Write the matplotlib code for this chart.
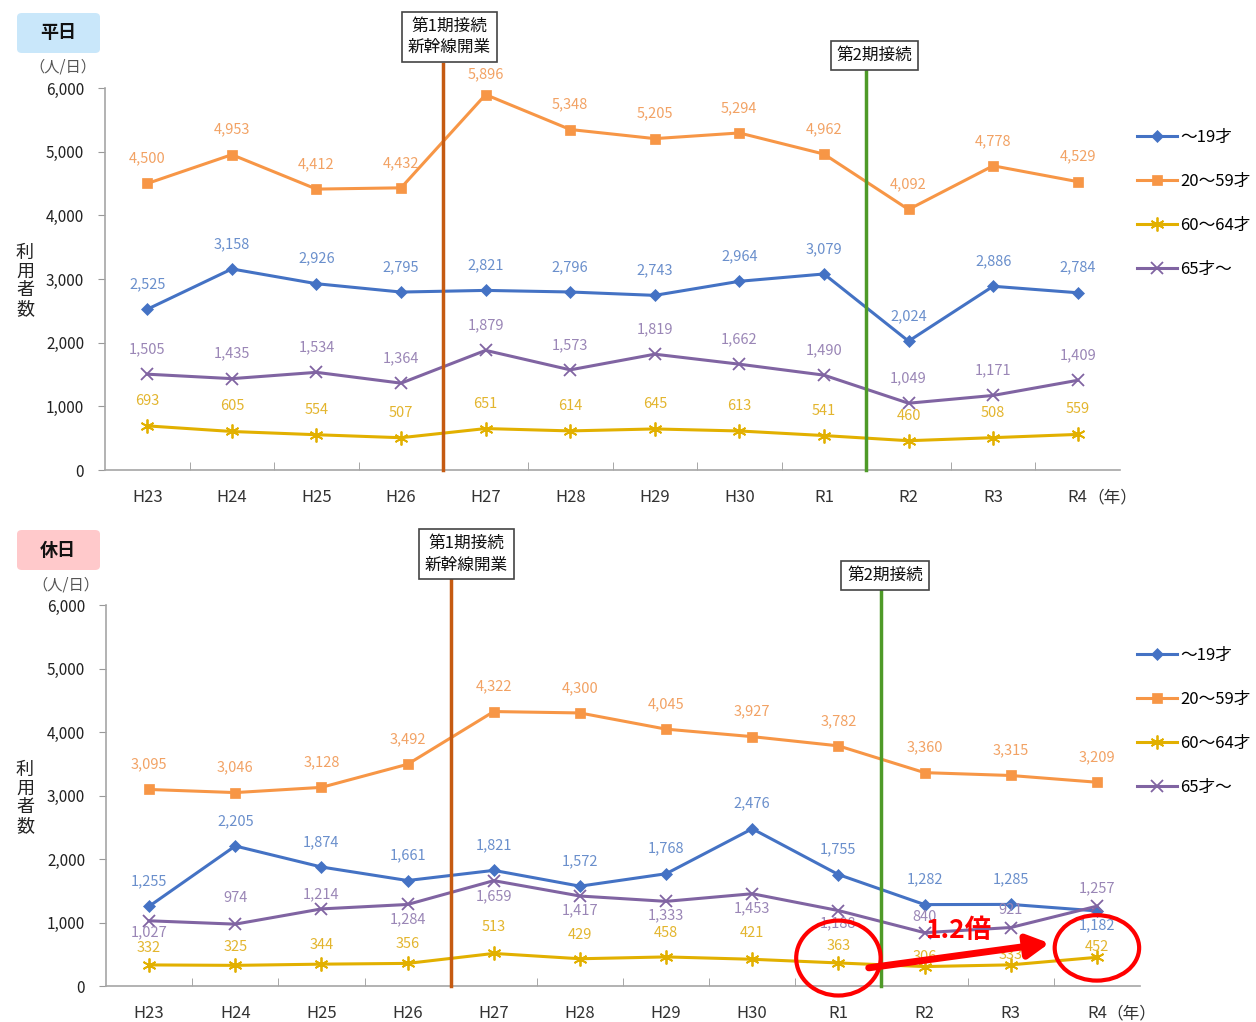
import matplotlib
matplotlib.use("Agg")
import matplotlib.pyplot as plt
from matplotlib.patches import Ellipse, FancyBboxPatch

plt.rcParams['font.family'] = ['Noto Sans CJK JP', 'DejaVu Sans']

years = ['H23', 'H24', 'H25', 'H26', 'H27', 'H28', 'H29', 'H30', 'R1', 'R2', 'R3', 'R4']
series_names = ['～19才', '20～59才', '60～64才', '65才～']

# weekday users per day
wd_u19 = [2525, 3158, 2926, 2795, 2821, 2796, 2743, 2964, 3079, 2024, 2886, 2784]
wd_20_59 = [4500, 4953, 4412, 4432, 5896, 5348, 5205, 5294, 4962, 4092, 4778, 4529]
wd_60_64 = [693, 605, 554, 507, 651, 614, 645, 613, 541, 460, 508, 559]
wd_65 = [1505, 1435, 1534, 1364, 1879, 1573, 1819, 1662, 1490, 1049, 1171, 1409]

# holiday users per day
hd_u19 = [1255, 2205, 1874, 1661, 1821, 1572, 1768, 2476, 1755, 1282, 1285, 1182]
hd_20_59 = [3095, 3046, 3128, 3492, 4322, 4300, 4045, 3927, 3782, 3360, 3315, 3209]
hd_60_64 = [332, 325, 344, 356, 513, 429, 458, 421, 363, 306, 333, 452]
hd_65 = [1027, 974, 1214, 1284, 1659, 1417, 1333, 1453, 1188, 840, 921, 1257]

line_colors = ['#4472C4', '#F79646', '#E2B000', '#8064A2']
label_colors = ['#6A8FCC', '#F2A264', '#E3B52E', '#9A86B6']
markers = ['D', 's', (6, 2, 0), 'x']
msizes = [6, 7, 10, 9]

# vertical offsets (px) for the value labels, per series
wd_offsets = [[25] * 12,
              [25, 25, 25, 25, 20, 25, 25, 25, 25, 25, 25, 25],
              [25] * 12, [25] * 12]
hd_offsets = [[25] * 11 + [-14], [25] * 12,
              [17, 18, 19, 19, 26, 24, 24, 26, 17, 10, 10, 10],
              [-12, 26, 15, -15, -16, -14, -14, -15, -13, 16, 18, 18]]

W, H = 1256, 1022
fig = plt.figure(figsize=(W / 100, H / 100), dpi=100)


def px_axes(left, top, right, bottom):
    return fig.add_axes([left / W, 1 - bottom / H, (right - left) / W, (bottom - top) / H])


def draw_panel(ax, data, offsets, leg_y, vlines, boxes):
    x = [i + 0.5 for i in range(len(years))]
    handles = []
    for k, vals in enumerate(data):
        h, = ax.plot(x, vals, color=line_colors[k], lw=2.2, marker=markers[k],
                     ms=msizes[k], mew=1.3 if k >= 2 else 0.5,
                     mec=line_colors[k], mfc=line_colors[k], label=series_names[k],
                     zorder=3)
        handles.append(h)
        for xi, v, off in zip(x, vals, offsets[k]):
            ax.annotate(f'{v:,}', (xi, v), xytext=(0, off * 0.72),
                        textcoords='offset points', ha='center', va='center',
                        fontsize=10.5, color=label_colors[k], zorder=4)
    ax.set_xlim(0, 12)
    ax.set_ylim(0, 6000)
    ax.set_yticks(range(0, 6001, 1000))
    ax.set_yticklabels([f'{v:,}' for v in range(0, 6001, 1000)], fontsize=11, color='#222222')
    ax.set_xticks(x)
    ax.set_xticklabels(years, fontsize=12, color='#333333')
    ax.set_xticks(range(1, 12), minor=True)
    ax.tick_params(axis='x', which='major', length=0, pad=14)
    ax.tick_params(axis='x', which='minor', length=6, direction='in', color='#999999')
    ax.tick_params(axis='y', length=5, color='#999999', pad=10)
    for s in ['top', 'right']:
        ax.spines[s].set_visible(False)
    for s in ['left', 'bottom']:
        ax.spines[s].set_color('#A6A6A6')
        ax.spines[s].set_linewidth(1.2)
    ax.annotate('（年）', (11.5, 0), xytext=(7, -14), textcoords='offset points',
                fontsize=12, color='#333333', ha='left', va='top', annotation_clip=False)

    for xv, ytop, col in vlines:
        ax.plot([xv, xv], [0, ytop], color=col, lw=2.5, clip_on=False, zorder=5)
    for bx, by, txt in boxes:
        ax.text(bx, by, txt, ha='center', va='center', fontsize=12, linespacing=1.35,
                color='#111111', clip_on=False, zorder=6,
                bbox=dict(boxstyle='square,pad=0.35', fc='white', ec='#444444', lw=1.2))

    leg = fig.legend(handles=handles, loc='upper left',
                     bbox_to_anchor=(1130 / W, 1 - leg_y / H), frameon=False,
                     fontsize=12, handlelength=2.4, labelspacing=1.62,
                     handletextpad=0.2, borderaxespad=0)
    return leg


# weekday panel
ax1 = px_axes(105, 88, 1120, 470)
draw_panel(ax1, [wd_u19, wd_20_59, wd_60_64, wd_65], wd_offsets, 122,
           [(4.0, 6380, '#C55A11'), (9.0, 6310, '#4E9A28')],
           [(4.07, 6800, '第1期接続\n新幹線開業'), (9.1, 6510, '第2期接続')])

# holiday panel
ax2 = px_axes(106, 605, 1140, 986)
draw_panel(ax2, [hd_u19, hd_20_59, hd_60_64, hd_65], hd_offsets, 640,
           [(4.0, 6410, '#C55A11'), (9.0, 6270, '#4E9A28')],
           [(4.18, 6800, '第1期接続\n新幹線開業'), (9.04, 6465, '第2期接続')])

# R1 -> R4 growth of the 60-64 group on holidays
for cx, cy, hgt in [(8.5, 440, 1180), (11.5, 600, 1030)]:
    ax2.add_patch(Ellipse((cx, cy), 0.98, hgt, fill=False, ec='#FF0000', lw=3,
                          clip_on=False, zorder=7))
ax2.annotate('', xy=(10.98, 680), xytext=(8.82, 280),
             arrowprops=dict(arrowstyle='-|>,head_length=1.3,head_width=0.7',
                             color='#FF0000', lw=5), zorder=7)
ax2.text(9.9, 880, '1.2倍', color='#FF0000', fontsize=19, fontweight='bold',
         ha='center', va='center', zorder=8)

# panel titles and axis captions
for ty, txt, fc in [(33, '平日', '#C9E7FA'), (550, '休日', '#FFC9CB')]:
    fig.patches.append(FancyBboxPatch((17 / W, 1 - (ty + 20) / H), 83 / W, 40 / H,
                                      boxstyle='round,pad=0,rounding_size=0.004',
                                      fc=fc, ec='none', transform=fig.transFigure,
                                      figure=fig))
    fig.text(58 / W, 1 - ty / H, txt, ha='center', va='center', fontsize=13,
             fontweight='bold', color='#111111')
    fig.text(25 / W, 1 - (ty + 248) / H, '利\n用\n者\n数', ha='center', va='center',
             fontsize=13, linespacing=1.05, color='#222222')

fig.text(63 / W, 1 - 67 / H, '（人/日）', ha='center', va='center', fontsize=11, color='#555555')
fig.text(66 / W, 1 - 585 / H, '（人/日）', ha='center', va='center', fontsize=11, color='#555555')

fig.savefig('out.png', dpi=100, facecolor='white')
